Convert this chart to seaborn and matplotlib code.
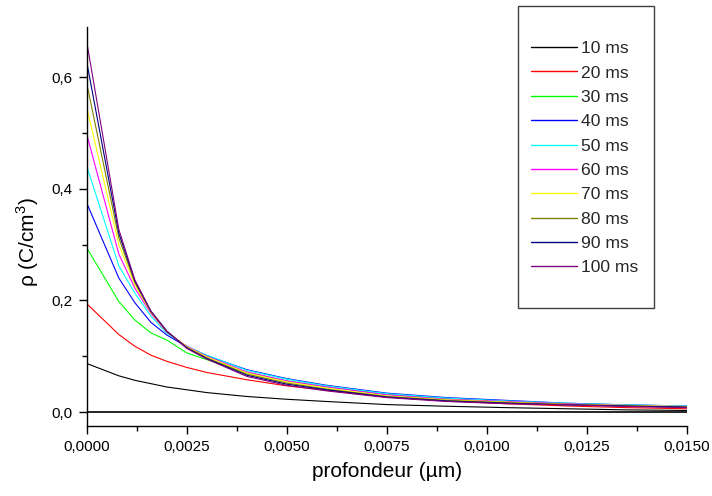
import numpy as np
import pandas as pd
import matplotlib
matplotlib.use('Agg')
import matplotlib.pyplot as plt
import seaborn as sns
from matplotlib.ticker import MultipleLocator, FuncFormatter
from matplotlib.patches import Rectangle

# depth (µm) at which the curves are sampled
profondeur = [0, 0.0008, 0.0012, 0.0016, 0.002, 0.0025, 0.003, 0.004,
              0.005, 0.006, 0.0075, 0.009, 0.0105, 0.012, 0.0135, 0.015]

labels = ['10 ms', '20 ms', '30 ms', '40 ms', '50 ms',
          '60 ms', '70 ms', '80 ms', '90 ms', '100 ms']

rho_10 = [0.087, 0.065, 0.057, 0.051, 0.045, 0.040, 0.035, 0.028,
          0.023, 0.019, 0.0135, 0.0105, 0.008, 0.006, 0.004, 0.003]
rho_20 = [0.194, 0.139, 0.118, 0.102, 0.091, 0.080, 0.071, 0.058,
          0.047, 0.039, 0.027, 0.020, 0.015, 0.011, 0.008, 0.006]
rho_30 = [0.294, 0.198, 0.165, 0.142, 0.129, 0.106, 0.094, 0.071,
          0.056, 0.045, 0.032, 0.024, 0.019, 0.015, 0.012, 0.009]
rho_40 = [0.374, 0.240, 0.196, 0.161, 0.138, 0.117, 0.101, 0.076,
          0.060, 0.048, 0.034, 0.026, 0.021, 0.016, 0.013, 0.011]
rho_50 = [0.440, 0.262, 0.213, 0.172, 0.141, 0.118, 0.102, 0.075,
          0.059, 0.047, 0.033, 0.025, 0.020, 0.016, 0.013, 0.011]
rho_60 = [0.497, 0.283, 0.222, 0.177, 0.143, 0.118, 0.100, 0.072,
          0.056, 0.045, 0.031, 0.023, 0.019, 0.015, 0.012, 0.010]
rho_70 = [0.545, 0.300, 0.228, 0.179, 0.144, 0.117, 0.099, 0.070,
          0.054, 0.043, 0.029, 0.022, 0.018, 0.014, 0.012, 0.010]
rho_80 = [0.588, 0.312, 0.232, 0.180, 0.144, 0.116, 0.097, 0.068,
          0.052, 0.041, 0.028, 0.021, 0.017, 0.014, 0.011, 0.009]
rho_90 = [0.626, 0.320, 0.235, 0.181, 0.145, 0.115, 0.096, 0.066,
          0.050, 0.040, 0.027, 0.020, 0.016, 0.013, 0.011, 0.009]
rho_100 = [0.662, 0.327, 0.237, 0.181, 0.145, 0.114, 0.095, 0.064,
           0.048, 0.038, 0.026, 0.019, 0.015, 0.013, 0.010, 0.008]

series = [rho_10, rho_20, rho_30, rho_40, rho_50,
          rho_60, rho_70, rho_80, rho_90, rho_100]
colors = ['#000000', '#ff0000', '#00ff00', '#0000ff', '#00ffff',
          '#ff00ff', '#ffff00', '#808000', '#000080', '#800080']

df = pd.DataFrame({
    'profondeur': np.tile(profondeur, len(labels)),
    'rho': np.concatenate(series),
    'temps': np.repeat(labels, len(profondeur)),
})

sns.set_style('ticks')
plt.rcParams['font.family'] = ['Liberation Sans', 'DejaVu Sans']
plt.rcParams['mathtext.fontset'] = 'custom'
plt.rcParams['mathtext.rm'] = 'Liberation Sans'

fig = plt.figure(figsize=(7.12, 4.96), dpi=100)
ax = fig.add_axes([0.122, 0.141, 0.8425, 0.8046])

sns.lineplot(data=df, x='profondeur', y='rho', hue='temps', hue_order=labels,
             palette=colors, linewidth=0.8, ax=ax, legend=False,
             estimator=None, sort=False)
ax.axhline(0, color='black', linewidth=1.2, zorder=0.5)

ax.set_xlim(0, 0.015)
ax.set_ylim(-0.025, 0.69)
ax.xaxis.set_major_locator(MultipleLocator(0.0025))
ax.xaxis.set_minor_locator(MultipleLocator(0.00125))
ax.yaxis.set_major_locator(MultipleLocator(0.2))
ax.yaxis.set_minor_locator(MultipleLocator(0.1))
ax.xaxis.set_major_formatter(FuncFormatter(lambda v, p: f'{v:.4f}'.replace('.', ',')))
ax.yaxis.set_major_formatter(FuncFormatter(lambda v, p: f'{v:.1f}'.replace('.', ',')))
ax.tick_params(which='major', direction='out', length=6, width=1, labelsize=11,
               color='black', labelcolor='black', pad=4)
ax.tick_params(which='minor', direction='out', length=3.8, width=1, color='black')

sns.despine(ax=ax)
for s in ['left', 'bottom']:
    ax.spines[s].set_linewidth(1.0)
    ax.spines[s].set_color('black')

ax.set_xlabel('profondeur (µm)', fontsize=15, color='black', labelpad=6)
ax.set_ylabel(r'ρ (C/cm$^{3}$)', fontsize=15, color='black')
ax.yaxis.set_label_coords(-0.077, 0.46)

# legend box outside the plot, as in the original
fig.patches.append(Rectangle((518 / 712, 1 - 308 / 496), 136 / 712, 302 / 496,
                             transform=fig.transFigure, fill=False,
                             edgecolor='#404040', linewidth=1.0))
handles = [plt.Line2D([], [], color=c, linewidth=1.0) for c in colors]
fig.legend(handles, labels, loc='upper left', bbox_to_anchor=(531 / 712, 1 - 41 / 496),
           frameon=False, fontsize=12.6, handlelength=2.63, handletextpad=0.25,
           labelspacing=0.52, borderpad=0, borderaxespad=0)

fig.savefig('out.png', dpi=100)
plt.close(fig)
